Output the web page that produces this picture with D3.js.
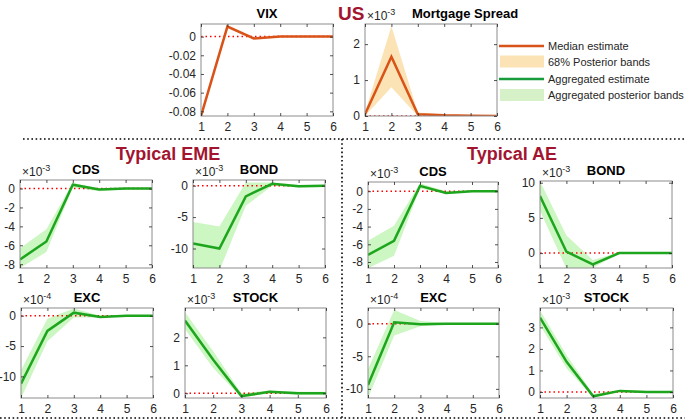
<!DOCTYPE html>
<html>
<head>
<meta charset="utf-8">
<script src="https://cdn.jsdelivr.net/npm/d3@7"></script>
<style>
  body { margin: 0; background: #fff; }
  svg { font-family: "Liberation Sans", Arial, sans-serif; }
</style>
</head>
<body>
<div id="chart"></div>
<script>
// horizons on the x axis
var steps = [1, 2, 3, 4, 5, 6];

// US block
var usVix = [-0.085, 0.0108, -0.002, 0, 0, 0];
var usMortgage = [0.05, 1.65, 0.05, 0.02, 0.01, 0];
var usMortgageLo = [0, 0.8, 0, 0, 0, 0];
var usMortgageHi = [0.1, 2.5, 0.1, 0.04, 0.02, 0.01];

// Typical EME (scaled by the exponent shown on each panel)
var emeCds = [-7.5, -5.6, 0.4, -0.1, 0, 0];
var emeCdsLo = [-8.4, -6.7, 0.1, -0.3, -0.1, -0.1];
var emeCdsHi = [-6.3, -4.3, 0.6, 0, 0.05, 0.05];
var emeBond = [-9.2, -10, -1.7, 0.3, -0.1, 0];
var emeBondLo = [-13.5, -13.5, -3.2, 0, -0.3, -0.2];
var emeBondHi = [-5.8, -6.5, 0.5, 0.5, 0.1, 0.1];
var emeExc = [-11.2, -2.5, 0.5, -0.2, 0, 0];
var emeExcLo = [-13.6, -4.2, -0.3, -0.3, -0.1, -0.1];
var emeExcHi = [-9, -0.5, 1.2, 0, 0.1, 0.1];
var emeStock = [2.6, 1.2, -0.1, 0.05, 0, 0];
var emeStockLo = [2.3, 0.9, -0.15, 0, -0.05, -0.05];
var emeStockHi = [2.9, 1.5, 0, 0.1, 0.05, 0.05];

// Typical AE
var aeCds = [-7.2, -5.6, 0.6, -0.2, 0, 0];
var aeCdsLo = [-8.7, -7.3, 0.3, -0.3, -0.1, -0.1];
var aeCdsHi = [-5.6, -3.9, 0.9, 0, 0.1, 0.1];
var aeBond = [8.1, 0.2, -1.6, 0, 0, 0];
var aeBondLo = [6.0, -2.2, -2.1, -0.1, -0.1, -0.1];
var aeBondHi = [10.2, 2.5, -1, 0.1, 0.1, 0.1];
var aeExc = [-9.4, 0.2, -0.1, 0, 0, 0];
var aeExcLo = [-11.4, -1.8, -0.4, -0.1, -0.05, -0.05];
var aeExcHi = [-7, 2.1, 0.4, 0.1, 0.05, 0.05];
var aeStock = [3.45, 1.4, -0.2, 0.05, 0, 0];
var aeStockLo = [3.1, 1.1, -0.25, 0, -0.05, -0.05];
var aeStockHi = [3.8, 1.7, -0.1, 0.1, 0.05, 0.05];

// tick labels
var vixTicks = [0, -0.02, -0.04, -0.06, -0.08];
var mortgageTicks = [0, 1, 2];
var cdsTicks = [0, -2, -4, -6, -8];
var emeBondTicks = [0, -5, -10];
var excTicks = [0, -5, -10];
var emeStockTicks = [0, 1, 2];
var aeBondTicks = [0, 5, 10];
var aeStockTicks = [0, 1, 2, 3];

var legendLabels = ["Median estimate", "68% Posterior bands", "Aggregated estimate", "Aggregated posterior bands"];

var orange = "#d95319", orangeBand = "#fbe3b6";
var green = "#1ea51e", greenBand = "#ccf6c2";

var width = 685, height = 420;
var svg = d3.select("#chart").append("svg")
  .attr("width", width).attr("height", height);

var panels = [
  { title: "VIX", x: 201, y: 24, w: 132, h: 92, dom: [-0.085, 0.0135], ticks: vixTicks, fmt: d3.format(".2f"),
    mid: usVix, color: orange },
  { title: "Mortgage Spread", titleX: 100, x: 365, y: 24, w: 132, h: 92, dom: [0, 2.56], ticks: mortgageTicks, exp: "-3",
    mid: usMortgage, lo: usMortgageLo, hi: usMortgageHi, color: orange, band: orangeBand },
  { title: "CDS", x: 20, y: 180, w: 132, h: 88, dom: [-8.4, 0.9], ticks: cdsTicks, exp: "-3",
    mid: emeCds, lo: emeCdsLo, hi: emeCdsHi, color: green, band: greenBand },
  { title: "BOND", x: 193, y: 180, w: 132, h: 88, dom: [-13.1, 0.9], ticks: emeBondTicks, exp: "-3",
    mid: emeBond, lo: emeBondLo, hi: emeBondHi, color: green, band: greenBand },
  { title: "EXC", x: 21, y: 308, w: 132, h: 90, dom: [-13.56, 1.27], ticks: excTicks, exp: "-4",
    mid: emeExc, lo: emeExcLo, hi: emeExcHi, color: green, band: greenBand },
  { title: "STOCK", x: 185, y: 308, w: 141, h: 90, dom: [-0.17, 3.05], ticks: emeStockTicks, exp: "-3",
    mid: emeStock, lo: emeStockLo, hi: emeStockHi, color: green, band: greenBand },
  { title: "CDS", x: 368, y: 182, w: 130, h: 86, dom: [-8.68, 1.04], ticks: cdsTicks, exp: "-3",
    mid: aeCds, lo: aeCdsLo, hi: aeCdsHi, color: green, band: greenBand },
  { title: "BOND", x: 540, y: 181, w: 132, h: 87, dom: [-2.12, 10.24], ticks: aeBondTicks, exp: "-3",
    mid: aeBond, lo: aeBondLo, hi: aeBondHi, color: green, band: greenBand },
  { title: "EXC", x: 368, y: 308, w: 131, h: 90, dom: [-11.4, 2.4], ticks: excTicks, exp: "-4",
    mid: aeExc, lo: aeExcLo, hi: aeExcHi, color: green, band: greenBand },
  { title: "STOCK", x: 540, y: 308, w: 133, h: 90, dom: [-0.28, 3.9], ticks: aeStockTicks, exp: "-3",
    mid: aeStock, lo: aeStockLo, hi: aeStockHi, color: green, band: greenBand }
];

function styleTicks(a) {
  a.select(".domain").remove();
  a.selectAll(".tick line").attr("stroke", "#262626").attr("stroke-width", 0.8);
  a.selectAll(".tick text")
    .style("font-family", "'Liberation Sans', Arial, sans-serif")
    .style("font-size", "12px")
    .attr("fill", "#262626");
}

panels.forEach(function (p, i) {
  var g = svg.append("g").attr("transform", "translate(" + p.x + "," + p.y + ")");
  var x = d3.scaleLinear().domain([1, 6]).range([0, p.w]);
  var y = d3.scaleLinear().domain(p.dom).range([p.h, 0]);

  g.append("clipPath").attr("id", "clip" + i)
    .append("rect").attr("width", p.w).attr("height", p.h);
  var plot = g.append("g").attr("clip-path", "url(#clip" + i + ")");

  if (p.lo) {
    var area = d3.area()
      .x(function (d, j) { return x(steps[j]); })
      .y0(function (d, j) { return y(p.lo[j]); })
      .y1(function (d, j) { return y(p.hi[j]); });
    plot.append("path").datum(p.mid).attr("d", area).attr("fill", p.band);
  }

  plot.append("line")
    .attr("x1", 0).attr("x2", p.w).attr("y1", y(0)).attr("y2", y(0))
    .attr("stroke", "#ff0000").attr("stroke-width", 1.5)
    .attr("stroke-dasharray", "1.5,3");

  var line = d3.line()
    .x(function (d, j) { return x(steps[j]); })
    .y(function (d) { return y(d); });
  plot.append("path").datum(p.mid).attr("d", line)
    .attr("fill", "none").attr("stroke", p.color).attr("stroke-width", 2.5);

  // box and inward ticks on all sides
  g.append("rect").attr("width", p.w).attr("height", p.h)
    .attr("fill", "none").attr("stroke", "#8c8c8c").attr("stroke-width", 1);

  var gx = g.append("g").attr("transform", "translate(0," + p.h + ")")
    .call(d3.axisBottom(x).tickValues(steps).tickSize(-3).tickPadding(4).tickFormat(d3.format("d")));
  var gxt = g.append("g")
    .call(d3.axisTop(x).tickValues(steps).tickSize(-3).tickFormat(""));
  var gy = g.append("g")
    .call(d3.axisLeft(y).tickValues(p.ticks).tickSize(-3).tickPadding(5)
      .tickFormat(function (d) { return d === 0 ? "0" : (p.fmt || d3.format("d"))(d).replace("\u2212", "-"); }));
  var gyr = g.append("g").attr("transform", "translate(" + p.w + ",0)")
    .call(d3.axisRight(y).tickValues(p.ticks).tickSize(-3).tickFormat(""));

  [gx, gxt, gy, gyr].forEach(styleTicks);
  gx.selectAll(".tick text").attr("y", 5).attr("dy", "0.8em");

  g.append("text")
    .attr("x", p.titleX !== undefined ? p.titleX : p.w / 2).attr("y", -6)
    .attr("text-anchor", "middle")
    .attr("font-size", 13).attr("font-weight", "bold").attr("fill", "#000")
    .text(p.title);

  if (p.exp) {
    var t = g.append("text").attr("x", 2).attr("y", -4)
      .attr("font-size", 12).attr("fill", "#262626");
    t.append("tspan").text("\u00d710");
    t.append("tspan").attr("font-size", 9).attr("dy", -5).text(p.exp);
  }
});

// group titles
var titleColor = "#a2142f";
svg.append("text").attr("font-size", 19).attr("font-weight", "bold").attr("fill", titleColor)
  .attr("x", 338).attr("y", 20).text("US");
svg.append("text").attr("font-size", 18).attr("font-weight", "bold").attr("fill", titleColor)
  .attr("x", 168).attr("y", 160).attr("text-anchor", "middle").text("Typical EME");
svg.append("text").attr("font-size", 18).attr("font-weight", "bold").attr("fill", titleColor)
  .attr("x", 512).attr("y", 160).attr("text-anchor", "middle").text("Typical AE");

// dotted separators
var sep = svg.append("g").attr("stroke", "#000").attr("stroke-width", 1.6)
  .attr("stroke-dasharray", "1.6,2.6");
sep.append("line").attr("x1", 23).attr("x2", 685).attr("y1", 139).attr("y2", 139);
sep.append("line").attr("x1", 342).attr("x2", 342).attr("y1", 139).attr("y2", 420);
sep.append("line").attr("x1", 0).attr("x2", 685).attr("y1", 418).attr("y2", 418);

// legend
var lg = svg.append("g").attr("transform", "translate(499,0)");
var legendRows = [
  { type: "line", color: orange, y: 46 },
  { type: "patch", color: orangeBand, y: 61.5 },
  { type: "line", color: "#179c3c", y: 79 },
  { type: "patch", color: "#d6f0c8", y: 95 }
];
legendRows.forEach(function (r, i) {
  if (r.type === "line") {
    lg.append("line").attr("x1", 0).attr("x2", 45).attr("y1", r.y).attr("y2", r.y)
      .attr("stroke", r.color).attr("stroke-width", 2.5);
  } else {
    lg.append("rect").attr("x", 1).attr("y", r.y - 6).attr("width", 44).attr("height", 12)
      .attr("fill", r.color);
  }
  lg.append("text").attr("x", 49).attr("y", r.y + 4)
    .attr("font-size", 11).attr("fill", "#262626")
    .text(legendLabels[i]);
});
</script>
</body>
</html>
